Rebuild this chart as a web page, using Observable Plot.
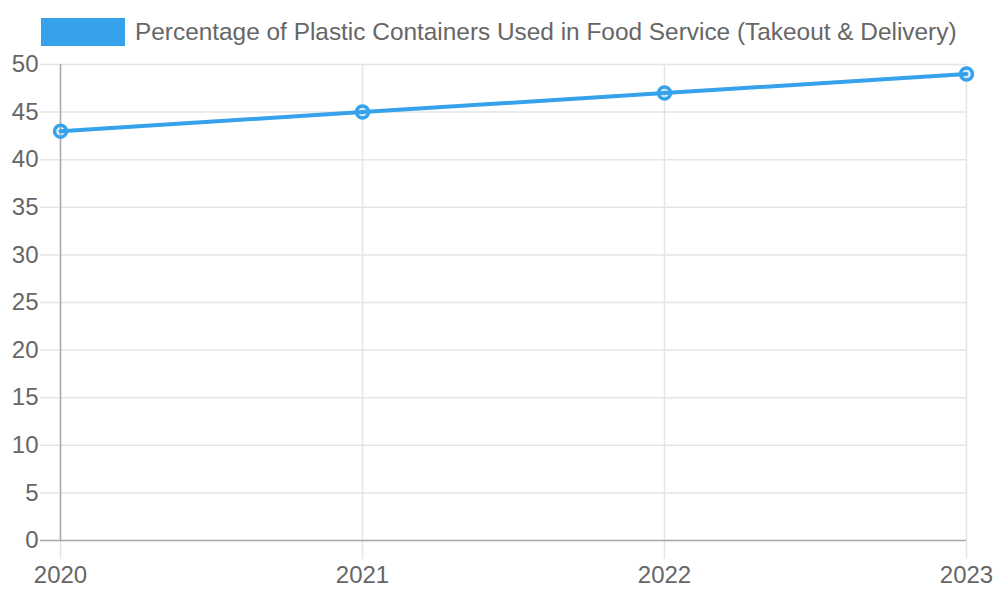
<!DOCTYPE html>
<html>
<head>
<meta charset="utf-8">
<script src="https://cdn.jsdelivr.net/npm/d3@7"></script>
<script src="https://cdn.jsdelivr.net/npm/@observablehq/plot@0.6"></script>
<style>
  html, body { margin: 0; padding: 0; background: #fff; }
  body { width: 1000px; height: 600px; overflow: hidden; font-family: "Liberation Sans", Arial, sans-serif; }
  #legend { height: 44px; position: relative; }
  #legend .swatch { position: absolute; left: 41px; top: 18px; width: 84px; height: 28px; background: #36A2EB; }
  #legend .label { position: absolute; left: 135px; top: 17px; font-size: 24.4px; line-height: 30px; color: #666; white-space: nowrap; }
  svg { display: block; }
</style>
</head>
<body>
<div id="legend"><div class="swatch"></div><div class="label"></div></div>
<div id="chart"></div>
<script>
const seriesLabel = "Percentage of Plastic Containers Used in Food Service (Takeout & Delivery)";
const years = [2020, 2021, 2022, 2023];
const values = [43, 45, 47, 49];
const yTicks = [0, 5, 10, 15, 20, 25, 30, 35, 40, 45, 50];

const data = years.map((year, i) => ({year, value: values[i]}));
const blue = "#36A2EB";

document.querySelector("#legend .label").textContent = seriesLabel;

const chart = Plot.plot({
  width: 1000,
  height: 556,
  marginLeft: 60,
  marginRight: 34,
  marginTop: 20,
  marginBottom: 60,
  style: {fontFamily: "'Liberation Sans', Arial, sans-serif", fontSize: "24px", color: "#666", background: "transparent", overflow: "visible"},
  x: {domain: [2020, 2023], label: null},
  y: {domain: [0, 50], label: null},
  marks: [
    // horizontal gridlines with left tick extension
    Plot.ruleY(yTicks, {stroke: "#e5e5e5", strokeWidth: 1.5, insetLeft: -20}),
    // vertical gridlines spanning the frame, with bottom tick extension
    Plot.ruleX(years, {stroke: "#e5e5e5", strokeWidth: 1.5, insetBottom: -19}),
    // axis lines
    Plot.ruleX([2020], {stroke: "#aaa", strokeWidth: 1.5}),
    Plot.ruleY([0], {stroke: "#aaa", strokeWidth: 1.5, insetLeft: -20}),
    Plot.axisY(yTicks, {tickSize: 0, tickPadding: 22, fill: "#666", fontSize: 24}),
    Plot.axisX(years, {tickSize: 0, tickPadding: 25, tickFormat: d => String(d), fill: "#666", fontSize: 24}),
    Plot.line(data, {x: "year", y: "value", stroke: blue, strokeWidth: 4}),
    Plot.dot(data, {x: "year", y: "value", r: 6, stroke: blue, strokeWidth: 3.5, fill: "rgba(54,162,235,0.15)"})
  ]
});
document.getElementById("chart").appendChild(chart);
</script>
</body>
</html>
